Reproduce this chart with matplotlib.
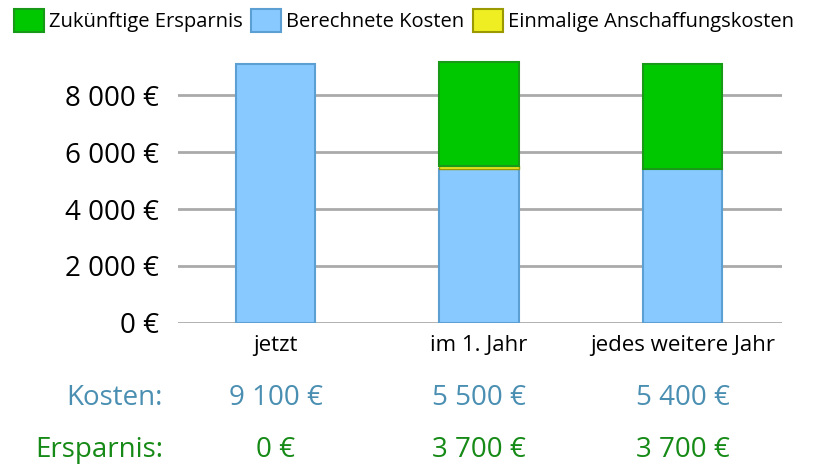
import matplotlib
matplotlib.use('Agg')
import matplotlib.pyplot as plt
from matplotlib.patches import Patch
from matplotlib.transforms import blended_transform_factory

plt.rcParams['font.family'] = ['Open Sans', 'DejaVu Sans']

categories = ['jetzt', 'im 1. Jahr', 'jedes weitere Jahr']
kosten_laufend = [9100, 5400, 5400]
einmalig = [0, 100, 0]
ersparnis = [0, 3650, 3700]
kosten_label = ['9 100 €', '5 500 €', '5 400 €']
ersparnis_label = ['0 €', '3 700 €', '3 700 €']
yticks = [0, 2000, 4000, 6000, 8000]
ytick_labels = ['0 €', '2 000 €', '4 000 €', '6 000 €', '8 000 €']

c_blue, e_blue = '#88c9ff', '#5b9fd3'
c_yel, e_yel = '#eeee22', '#9a9a00'
c_green, e_green = '#00c800', '#189a18'


def stack(ax, vals, bottoms, color, edge, lw):
    # skip empty segments so no stray edge line is drawn
    idx = [i for i, v in enumerate(vals) if v > 0]
    ax.bar(idx, [vals[i] for i in idx], width=0.39, bottom=[bottoms[i] for i in idx],
           color=color, edgecolor=edge, linewidth=lw, zorder=3)


fig = plt.figure(figsize=(8.13, 4.70), dpi=100)
ax = fig.add_axes([0.219, 0.3128, 0.743, 0.5638])

x = list(range(len(categories)))
stack(ax, kosten_laufend, [0, 0, 0], c_blue, e_blue, 1.5)
stack(ax, einmalig, kosten_laufend, c_yel, e_yel, 1.0)
bottom3 = [a + b for a, b in zip(kosten_laufend, einmalig)]
stack(ax, ersparnis, bottom3, c_green, e_green, 1.5)

ax.set_xlim(-0.48, 2.49)
ax.set_ylim(0, 9300)
ax.set_yticks(yticks)
ax.set_yticklabels(ytick_labels, fontsize=20)
ax.set_xticks(x)
ax.set_xticklabels(categories, fontsize=16)
ax.tick_params(axis='both', length=0)
ax.tick_params(axis='y', pad=14)
ax.tick_params(axis='x', pad=9)
ax.yaxis.grid(True, color='#aaaaaa', linewidth=2, zorder=0)
for s in ax.spines.values():
    s.set_visible(False)

trans = blended_transform_factory(ax.transData, fig.transFigure)
fig.text(163 / 813, 1 - 398 / 470, 'Kosten:', ha='right', va='center', fontsize=20, color='#4a8fb2')
fig.text(163 / 813, 1 - 450 / 470, 'Ersparnis:', ha='right', va='center', fontsize=20, color='#168a16')
for i in x:
    ax.text(i, 1 - 398 / 470, kosten_label[i], transform=trans, ha='center', va='center',
            fontsize=20, color='#4a8fb2')
    ax.text(i, 1 - 450 / 470, ersparnis_label[i], transform=trans, ha='center', va='center',
            fontsize=20, color='#168a16')

handles = [Patch(facecolor=c_green, edgecolor=e_green, linewidth=1.5, label='Zukünftige Ersparnis'),
           Patch(facecolor=c_blue, edgecolor=e_blue, linewidth=1.5, label='Berechnete Kosten'),
           Patch(facecolor=c_yel, edgecolor=e_yel, linewidth=1.5, label='Einmalige Anschaffungskosten')]
fig.legend(handles=handles, loc='upper left', bbox_to_anchor=(0.0, 1.01), ncol=3, frameon=False,
           fontsize=14.5, handlelength=1.5, handleheight=1.35, handletextpad=0.25, columnspacing=0.4,
           borderaxespad=0.3)

fig.savefig('out.png', dpi=100)
